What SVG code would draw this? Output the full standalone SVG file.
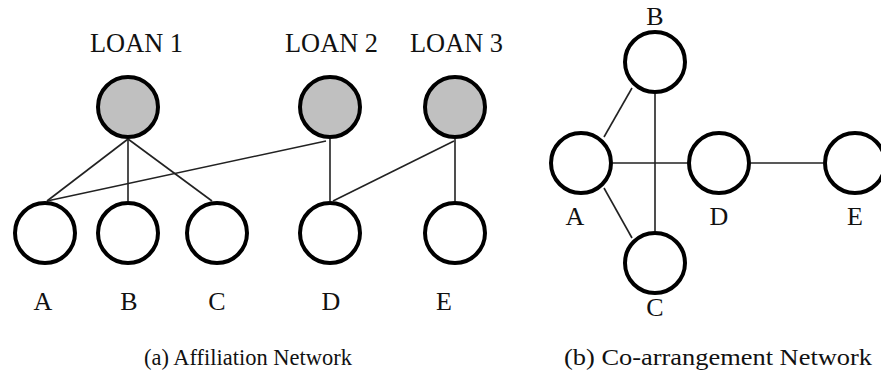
<svg xmlns="http://www.w3.org/2000/svg" width="881" height="378" viewBox="0 0 881 378">
  <style>
    .loan { fill: #c0c0c0; stroke: #000; stroke-width: 4; }
    .actor { fill: #fff; stroke: #000; stroke-width: 4; }
    .edge { stroke: #222; stroke-width: 1.6; fill: none; }
    .lbl { font-family: "Liberation Serif", "Times New Roman", serif; font-size: 26px; fill: #111; text-anchor: middle; }
    .loanlbl { font-family: "Liberation Serif", "Times New Roman", serif; font-size: 28px; fill: #111; }
    .cap { font-family: "Liberation Serif", "Times New Roman", serif; font-size: 23px; fill: #111; }
  </style>
  <rect width="881" height="378" fill="#fff"/>

  <!-- (a) affiliation network: edges -->
  <g id="edges-affiliation">
    <line class="edge" x1="128" y1="139" x2="47" y2="201"/>
    <line class="edge" x1="128" y1="139" x2="128" y2="201"/>
    <line class="edge" x1="128" y1="139" x2="212" y2="201"/>
    <line class="edge" x1="326" y1="141" x2="47" y2="201"/>
    <line class="edge" x1="330" y1="139" x2="330" y2="201"/>
    <line class="edge" x1="454" y1="141" x2="333" y2="201"/>
    <line class="edge" x1="455" y1="139" x2="455" y2="201"/>
  </g>

  <!-- (a) loan nodes -->
  <g id="loan1">
    <text class="loanlbl" x="90" y="52" textLength="93" lengthAdjust="spacingAndGlyphs">LOAN 1</text>
    <circle class="loan" cx="128" cy="107" r="30"/>
  </g>
  <g id="loan2">
    <text class="loanlbl" x="285" y="52" textLength="93" lengthAdjust="spacingAndGlyphs">LOAN 2</text>
    <circle class="loan" cx="330" cy="107" r="30"/>
  </g>
  <g id="loan3">
    <text class="loanlbl" x="410" y="52" textLength="93" lengthAdjust="spacingAndGlyphs">LOAN 3</text>
    <circle class="loan" cx="455" cy="107" r="30"/>
  </g>

  <!-- (a) borrower nodes -->
  <g id="a-A">
    <circle class="actor" cx="45" cy="233" r="30"/>
    <text class="lbl" x="43" y="310">A</text>
  </g>
  <g id="a-B">
    <circle class="actor" cx="128" cy="233" r="30"/>
    <text class="lbl" x="129" y="310">B</text>
  </g>
  <g id="a-C">
    <circle class="actor" cx="217" cy="233" r="30"/>
    <text class="lbl" x="217" y="310">C</text>
  </g>
  <g id="a-D">
    <circle class="actor" cx="330" cy="233" r="30"/>
    <text class="lbl" x="331" y="310">D</text>
  </g>
  <g id="a-E">
    <circle class="actor" cx="455" cy="233" r="30"/>
    <text class="lbl" x="444" y="310">E</text>
  </g>

  <!-- (b) co-arrangement network: edges -->
  <g id="edges-coarrangement">
    <line class="edge" x1="604" y1="137" x2="632" y2="88"/>
    <line class="edge" x1="604" y1="188" x2="632" y2="238"/>
    <line class="edge" x1="613" y1="163" x2="687" y2="163"/>
    <line class="edge" x1="655" y1="94" x2="655" y2="231"/>
    <line class="edge" x1="751" y1="163" x2="823" y2="163"/>
  </g>

  <!-- (b) nodes -->
  <g id="b-A">
    <circle class="actor" cx="581" cy="163" r="30"/>
    <text class="lbl" x="575" y="225">A</text>
  </g>
  <g id="b-B">
    <circle class="actor" cx="655" cy="62" r="30"/>
    <text class="lbl" x="655" y="25">B</text>
  </g>
  <g id="b-C">
    <circle class="actor" cx="655" cy="263" r="30"/>
    <text class="lbl" x="655" y="316">C</text>
  </g>
  <g id="b-D">
    <circle class="actor" cx="719" cy="163" r="30"/>
    <text class="lbl" x="719" y="225">D</text>
  </g>
  <g id="b-E">
    <circle class="actor" cx="855" cy="163" r="30"/>
    <text class="lbl" x="855" y="225">E</text>
  </g>

  <!-- captions -->
  <text class="cap" x="144" y="365" textLength="208" lengthAdjust="spacingAndGlyphs">(a) Affiliation Network</text>
  <text class="cap" x="564" y="365" textLength="308" lengthAdjust="spacingAndGlyphs">(b) Co-arrangement Network</text>
</svg>
